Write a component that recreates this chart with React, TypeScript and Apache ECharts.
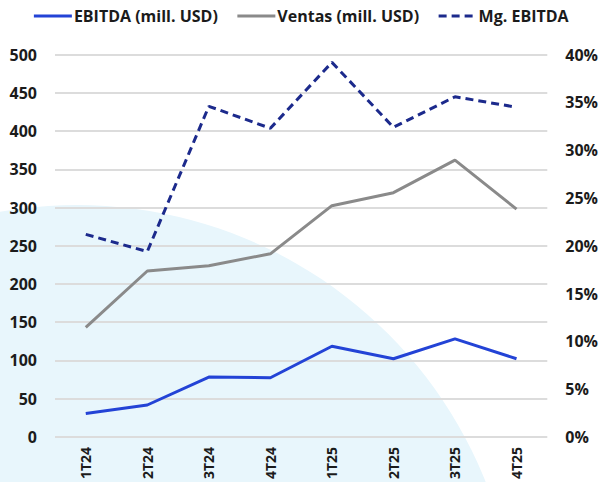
import React, { useEffect, useRef } from "react";
import * as echarts from "echarts";

const categories = ["1T24", "2T24", "3T24", "4T24", "1T25", "2T25", "3T25", "4T25"];
const ebitda = [30.5, 41.7, 78.2, 77.4, 118.6, 102.2, 128.3, 102.2];
const ventas = [143.4, 217, 224, 239.5, 302.5, 319.5, 362, 298];
const mgEbitda = [21.2, 19.4, 34.6, 32.3, 39.2, 32.4, 35.6, 34.5];
const leftTicks = { min: 0, max: 500, interval: 50 };
const rightTicks = { min: 0, max: 40, interval: 5 };

const FONT = "'Open Sans', 'Noto Sans', sans-serif";
const TEXT = "#1b1b1b";

export default function App() {
  const ref = useRef<HTMLDivElement>(null);
  useEffect(() => {
    if (!ref.current) return;
    const chart = echarts.init(ref.current, null, { renderer: "svg" });
    chart.setOption({
      animation: false,
      backgroundColor: "#ffffff",
      textStyle: { fontFamily: FONT },
      graphic: [
        {
          type: "circle",
          z: -10,
          silent: true,
          shape: { cx: 77, cy: 645, r: 440 },
          style: { fill: "#e8f6fc" },
        },
      ],
      legend: {
        top: 3,
        left: "center",
        itemWidth: 38,
        itemHeight: 14,
        itemGap: 18,
        itemStyle: { opacity: 0 },
        lineStyle: { width: 3 },
        textStyle: { fontFamily: FONT, fontSize: 16, fontWeight: "bold", color: TEXT, padding: [0, 0, 0, -3] },
        data: ["EBITDA (mill. USD)", "Ventas (mill. USD)", "Mg. EBITDA"],
      },
      grid: { left: 55, right: 52, top: 54.7, bottom: 44.3, containLabel: false },
      xAxis: {
        type: "category",
        data: categories,
        boundaryGap: true,
        axisLine: { show: false },
        axisTick: { show: false },
        axisLabel: { rotate: 90, margin: 10, fontFamily: FONT, fontSize: 14, fontWeight: "bold", color: TEXT },
      },
      yAxis: [
        {
          type: "value",
          min: leftTicks.min,
          max: leftTicks.max,
          interval: leftTicks.interval,
          axisLine: { show: false },
          axisTick: { show: false },
          splitLine: { lineStyle: { color: "#dcdcdc", width: 2 } },
          axisLabel: { margin: 18, fontFamily: FONT, fontSize: 16, fontWeight: "bold", color: TEXT },
        },
        {
          type: "value",
          min: rightTicks.min,
          max: rightTicks.max,
          interval: rightTicks.interval,
          position: "right",
          axisLine: { show: false },
          axisTick: { show: false },
          splitLine: { show: false },
          axisLabel: { margin: 18, formatter: "{value}%", fontFamily: FONT, fontSize: 16, fontWeight: "bold", color: TEXT },
        },
      ],
      series: [
        {
          name: "EBITDA (mill. USD)",
          type: "line",
          data: ebitda,
          yAxisIndex: 0,
          symbol: "none",
          color: "#2343d6",
          lineStyle: { width: 3, color: "#2343d6" },
          z: 3,
        },
        {
          name: "Ventas (mill. USD)",
          type: "line",
          data: ventas,
          yAxisIndex: 0,
          symbol: "none",
          color: "#8a8a8a",
          lineStyle: { width: 3, color: "#8a8a8a" },
          z: 2,
        },
        {
          name: "Mg. EBITDA",
          type: "line",
          data: mgEbitda,
          yAxisIndex: 1,
          symbol: "none",
          color: "#1c2a8c",
          lineStyle: { width: 3, color: "#1c2a8c", type: [8, 5] },
          z: 4,
        },
      ],
    });
    return () => chart.dispose();
  }, []);
  return (
    <div
      ref={ref}
      style={{ position: "absolute", left: 0, top: 0, width: 601, height: 482 }}
    />
  );
}
